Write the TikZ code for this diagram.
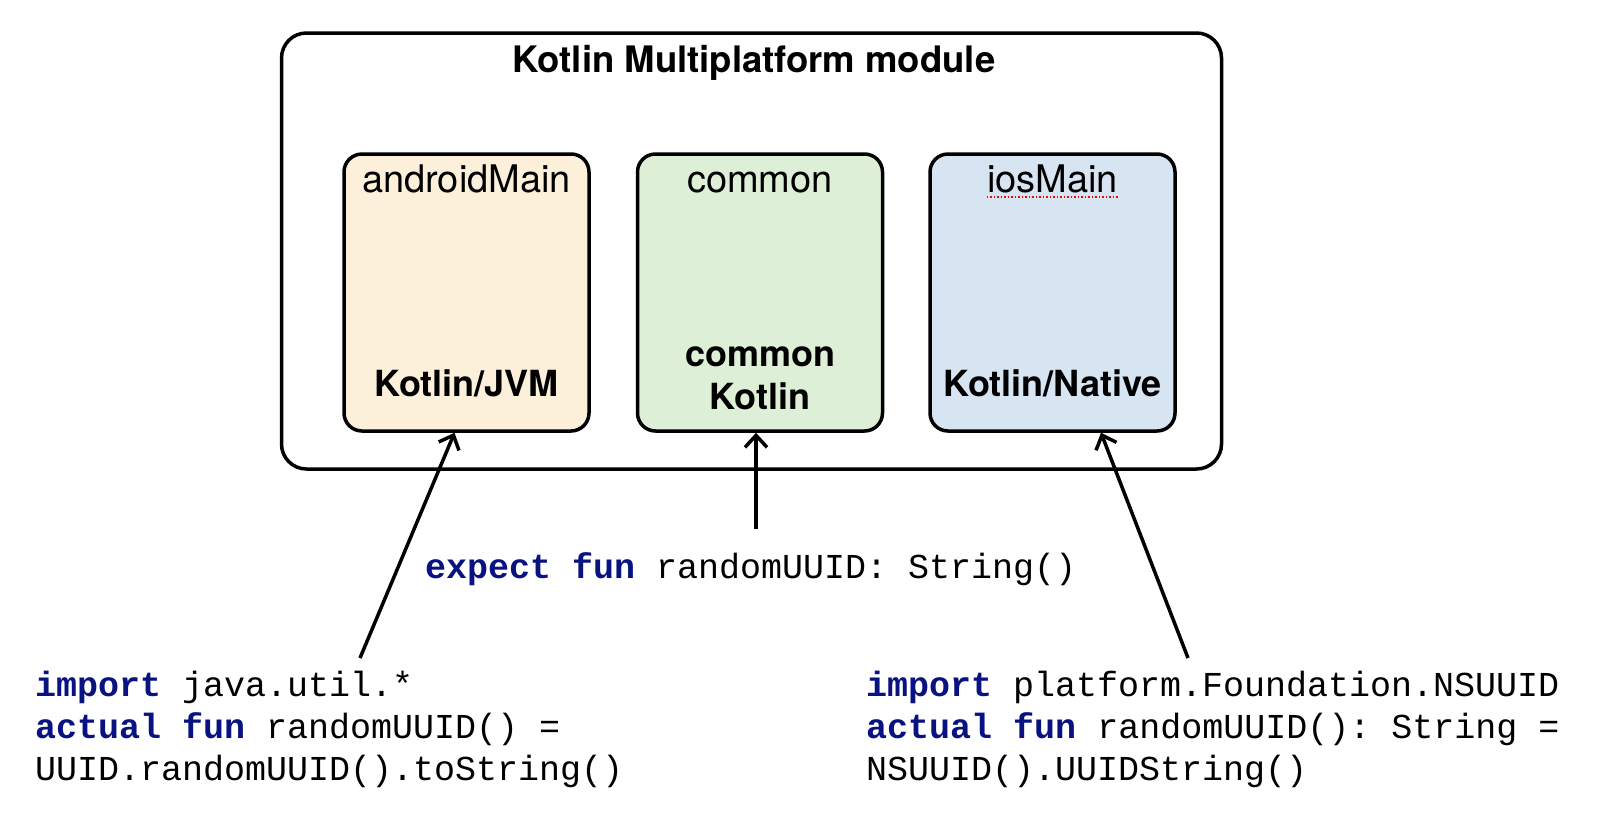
\documentclass[tikz,border=0pt]{standalone}
\usepackage{fontspec}
\setmainfont{TeX Gyre Heros}
\setmonofont{Liberation Mono}
\usetikzlibrary{arrows.meta}

\definecolor{keyword}{RGB}{8,18,128}
\definecolor{jvmcolor}{RGB}{252,240,218}
\definecolor{commoncolor}{RGB}{221,239,215}
\definecolor{nativecolor}{RGB}{215,228,241}
\newcommand{\kw}[1]{\textcolor{keyword}{\textbf{#1}}}

\begin{document}
\begin{tikzpicture}[x=1pt, y=-1pt,
    kmpmodule/.style={draw, line width=3.5pt, rounded corners=25pt, minimum width=940pt, minimum height=436pt},
    sourceset/.style={draw, line width=3.5pt, rounded corners=18pt, minimum width=245pt, minimum height=277pt},
    setname/.style={anchor=base, font=\fontsize{38}{44}\selectfont, inner sep=0pt},
    platform/.style={anchor=base, font=\bfseries\fontsize{36}{43}\selectfont, align=center, inner sep=0pt},
    codetext/.style={anchor=base west, font=\ttfamily\fontsize{35}{42}\selectfont, align=left, inner sep=0pt},
    link/.style={line width=3.5pt, -{Straight Barb[length=12pt, width=22pt]}}]
                        \useasboundingbox (0,0) rectangle (1602,812);

                        \node[kmpmodule] (kmp) at (751.5,251) {};
                        \node[setname, font=\bfseries\fontsize{36.5}{44}\selectfont] (kmpname) at (754,72) {Kotlin Multiplatform module};

                        \node[sourceset, fill=jvmcolor] (jvmset) at (466.5,292.5) {};
                        \node[sourceset, fill=commoncolor] (commonset) at (760,292.5) {};
                        \node[sourceset, fill=nativecolor] (nativeset) at (1052.5,292.5) {};

                        \node[setname] (jvmname) at (466.5,192) {androidMain};
                        \node[setname] (commonname) at (760,192) {common};
                        \node[setname] (nativename) at (1052.5,192) {iosMain};
                        \draw[red, dotted, line width=1.5pt] ([yshift=-4pt]nativename.south west) -- ([yshift=-4pt]nativename.south east);

                        \node[platform] (jvm) at (466.5,396) {Kotlin/JVM};
                        \node[platform] (common) at (760,409.5) {common\\Kotlin};
                        \node[platform] (native) at (1052.5,396) {Kotlin/Native};

                        \node[codetext] (expectcode) at (425,578) {\kw{expect fun} randomUUID: String()};
                        \node[codetext] (jvmcode) at (35,780) {\kw{import} java.util.*\\\kw{actual fun} randomUUID() =\\UUID.randomUUID().toString()};
                        \node[codetext] (nativecode) at (866,780) {\kw{import} platform.Foundation.NSUUID\\\kw{actual fun} randomUUID(): String =\\NSUUID().UUIDString()};

                        \coordinate (jvmtail) at (360,658);
                        \coordinate (expecttail) at (756,529);
                        \coordinate (nativetail) at (1188,658);

                        \draw[link] (jvmtail) -- ([xshift=-12pt]jvmset.south);
                        \draw[link] (expecttail) -- (expecttail |- commonset.south);
                        \draw[link] (nativetail) -- ([xshift=48.5pt]nativeset.south);
                    \end{tikzpicture}
\end{document}
